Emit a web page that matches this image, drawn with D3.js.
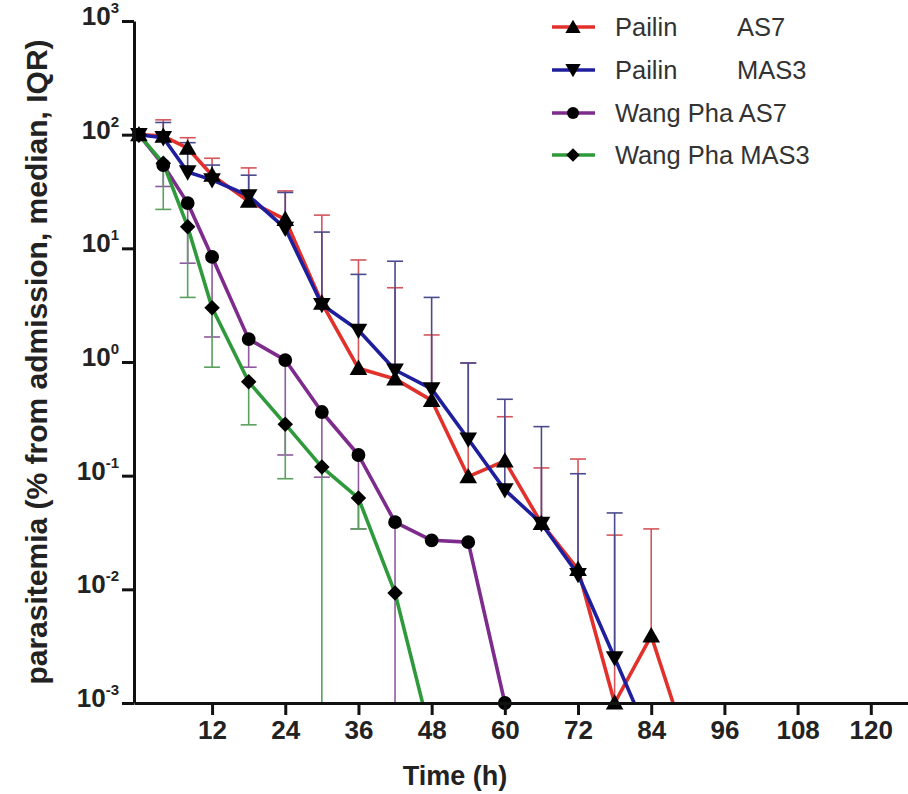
<!DOCTYPE html>
<html>
<head>
<meta charset="utf-8">
<script src="https://cdn.jsdelivr.net/npm/d3@7"></script>
<style>
  html, body { margin: 0; padding: 0; background: #fff; }
  svg { display: block; font-family: "Liberation Sans", Arial, Helvetica, sans-serif; }
</style>
</head>
<body>
<svg id="chart" width="908" height="794"></svg>
<script>
// ---- data ----
const times = [0, 4, 8, 12, 18, 24, 30, 36, 42, 48, 54, 60, 66, 72, 78, 84, 90];

const pailinAS7      = [100, 97, 76, 44, 26, 18, 3.3, 0.88, 0.71, 0.46, 0.098, 0.135, 0.038, 0.015, 0.001, 0.0039, 0.0004];
const pailinAS7Q3    = [null, 135, 94, 62, 51, 32, 19.6, 7.9, 4.5, 1.73, 0.98, 0.33, 0.117, 0.14, 0.030, 0.034, null];

const pailinMAS3     = [100, 94, 47, 40, 29, 15, 3.2, 1.9, 0.85, 0.58, 0.21, 0.075, 0.038, 0.0135, 0.0025, 0.00045, null];
const pailinMAS3Q3   = [null, 128, 85, 54, 44, 31, 13.9, 5.9, 7.7, 3.7, 0.98, 0.47, 0.27, 0.104, 0.047, null, null];

const wangPhaAS7     = [100, 54, 25, 8.4, 1.59, 1.04, 0.363, 0.152, 0.039, 0.027, 0.026, 0.001, null, null, null, null, null];
const wangPhaAS7Q1   = [null, 35, 7.4, 1.66, 0.9, 0.152, 0.097, 0.034, 0.0001, null, null, null, null, null, null, null, null];

const wangPhaMAS3    = [100, 56, 15.5, 3.0, 0.67, 0.284, 0.119, 0.0635, 0.0093, 0.00048, null, null, null, null, null, null, null];
const wangPhaMAS3Q1  = [null, 22, 3.7, 0.9, 0.28, 0.094, 0.0001, 0.034, null, null, null, null, null, null, null, null, null];

const seriesNames  = ["Pailin", "Pailin", "Wang Pha AS7", "Wang Pha MAS3"];
const seriesSuffix = ["AS7", "MAS3", "", ""];
const seriesColors = ["#e2302b", "#1f1f9e", "#7d2b8c", "#2f9a3c"];
const barColors    = ["#d4555a", "#4a4a8e", "#8e5a9e", "#5aa05f"];
const seriesShapes = ["triangleUp", "triangleDown", "circle", "diamond"];

const xTicks = [12, 24, 36, 48, 60, 72, 84, 96, 108, 120];
const yTicks = [1e-3, 1e-2, 1e-1, 1e0, 1e1, 1e2, 1e3];

const seriesValues = [pailinAS7, pailinMAS3, wangPhaAS7, wangPhaMAS3];
const seriesBars   = [pailinAS7Q3, pailinMAS3Q3, wangPhaAS7Q1, wangPhaMAS3Q1];

// ---- layout ----
const svg = d3.select("#chart");
const x = d3.scaleLinear().domain([-0.8, 126.1]).range([134, 908]);
const y = d3.scaleLog().domain([1e-3, 1e3]).range([703, 21]);

svg.append("defs").append("clipPath").attr("id", "plotClip")
  .append("rect").attr("x", 134).attr("y", 0).attr("width", 774).attr("height", 703);

// error bars
const capHalf = 8;
seriesValues.forEach((vals, si) => {
  const g = svg.append("g").attr("clip-path", "url(#plotClip)")
    .attr("stroke", barColors[si]).attr("stroke-width", 1.6).attr("fill", "none");
  times.forEach((t, i) => {
    const m = vals[i], b = seriesBars[si][i];
    if (m == null || b == null) return;
    const xm = x(t);
    g.append("line").attr("x1", xm).attr("x2", xm).attr("y1", y(m)).attr("y2", y(b));
    g.append("line").attr("x1", xm - capHalf).attr("x2", xm + capHalf).attr("y1", y(b)).attr("y2", y(b));
  });
});

// lines
const lineGen = d3.line()
  .defined(d => d.v != null)
  .x(d => x(d.t)).y(d => y(d.v));
seriesValues.forEach((vals, si) => {
  const pts = times.map((t, i) => ({ t, v: vals[i] }));
  svg.append("path").attr("clip-path", "url(#plotClip)")
    .attr("d", lineGen(pts))
    .attr("fill", "none").attr("stroke", seriesColors[si])
    .attr("stroke-width", 3.6).attr("stroke-linejoin", "round");
});

// markers
const squareDiamond = {
  draw(ctx, size) {
    const r = Math.sqrt(size / 2);
    ctx.moveTo(0, -r); ctx.lineTo(r, 0); ctx.lineTo(0, r); ctx.lineTo(-r, 0); ctx.closePath();
  }
};
function symbolPath(shape, scale) {
  const k = scale || 1;
  if (shape === "circle") return d3.symbol().type(d3.symbolCircle).size(150 * k)();
  if (shape === "diamond") return d3.symbol().type(squareDiamond).size(120 * k)();
  return d3.symbol().type(d3.symbolTriangle).size(135 * k)();
}
function drawMarker(g, shape, cx, cy, scale) {
  const rot = shape === "triangleDown" ? 180 : 0;
  const dy = shape === "triangleUp" ? 1.5 : (shape === "triangleDown" ? -1.5 : 0);
  g.append("path").attr("d", symbolPath(shape, scale))
    .attr("transform", `translate(${cx},${cy + dy}) rotate(${rot})`)
    .attr("fill", "#000");
}
seriesValues.forEach((vals, si) => {
  const g = svg.append("g");
  times.forEach((t, i) => {
    const v = vals[i];
    if (v == null || v < 1e-3 * 0.999) return;
    drawMarker(g, seriesShapes[si], x(t), y(v));
  });
});

// axes
const xAxis = d3.axisBottom(x).tickValues(xTicks).tickSize(12).tickSizeOuter(0).tickPadding(6);
const gx = svg.append("g").attr("transform", "translate(0,703)").call(xAxis);
gx.select(".domain").attr("stroke", "#111").attr("stroke-width", 3);
gx.selectAll(".tick line").attr("stroke", "#111").attr("stroke-width", 3);
gx.selectAll(".tick text").attr("font-size", 26).attr("font-weight", "bold")
  .attr("fill", "#222").attr("font-family", "Liberation Sans, Arial, sans-serif");

const yAxis = d3.axisLeft(y).tickValues(yTicks).tickSize(12).tickSizeOuter(0).tickPadding(3).tickFormat(() => "");
const gy = svg.append("g").attr("transform", "translate(134,0)").call(yAxis);
gy.select(".domain").attr("stroke", "#111").attr("stroke-width", 3);
gy.selectAll(".tick line").attr("stroke", "#111").attr("stroke-width", 3);
gy.selectAll(".tick text")
  .attr("font-family", "Liberation Sans, Arial, sans-serif")
  .attr("fill", "#222").attr("font-weight", "bold").attr("dy", "0.36em")
  .each(function(d) {
    const t = d3.select(this);
    const e = Math.round(Math.log10(d));
    t.append("tspan").attr("font-size", 26).text("10");
    t.append("tspan").attr("font-size", 15).attr("dy", "-0.8em").text(String(e));
  });

// axis titles
svg.append("text")
  .attr("transform", "translate(47,362) rotate(-90)")
  .attr("text-anchor", "middle")
  .attr("font-size", 30).attr("font-weight", "bold").attr("fill", "#222")
  .text("parasitemia (% from admission, median, IQR)");

svg.append("text")
  .attr("x", 455).attr("y", 785)
  .attr("text-anchor", "middle")
  .attr("font-size", 27).attr("font-weight", "bold").attr("fill", "#222")
  .text("Time (h)");

// legend
const legY = [27, 70, 113, 155];
const leg = svg.append("g");
seriesNames.forEach((name, si) => {
  const yy = legY[si];
  leg.append("line").attr("x1", 552).attr("x2", 595).attr("y1", yy).attr("y2", yy)
    .attr("stroke", seriesColors[si]).attr("stroke-width", 3.6);
  drawMarker(leg, seriesShapes[si], 573, yy, 0.75);
  const txt = leg.append("text").attr("x", 615).attr("y", yy).attr("dy", "0.36em")
    .attr("font-size", 25.5).attr("fill", "#333");
  txt.append("tspan").text(name);
  if (seriesSuffix[si]) txt.append("tspan").attr("x", 737).text(seriesSuffix[si]);
});
</script>
</body>
</html>
